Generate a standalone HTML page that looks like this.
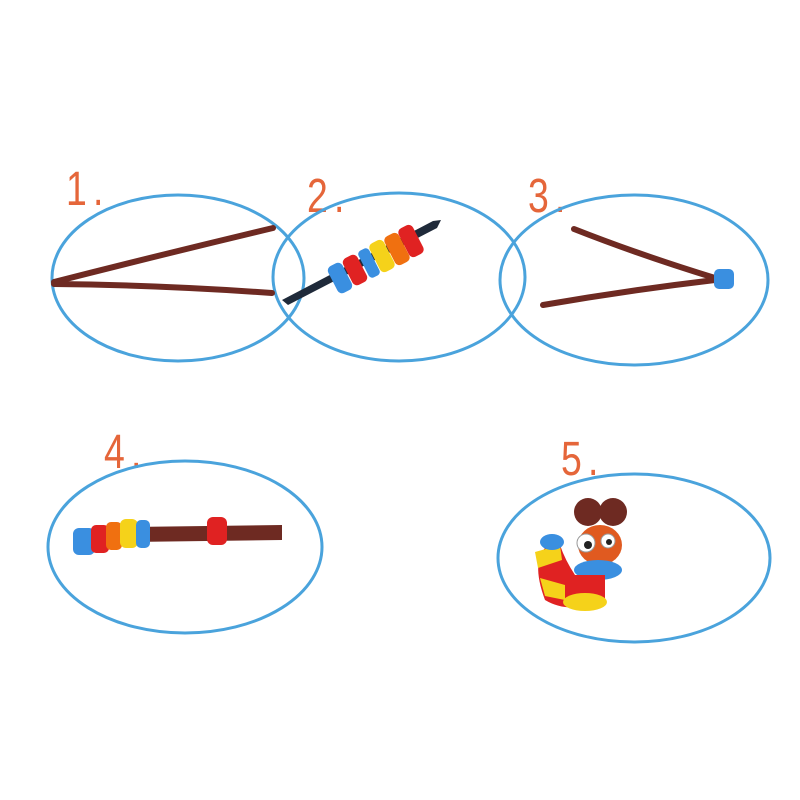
<!DOCTYPE html>
<html><head><style>body{margin:0;background:#fff}svg{display:block}</style></head><body>
<svg width="800" height="800" viewBox="0 0 800 800" xmlns="http://www.w3.org/2000/svg">
<g fill="#e5663a" font-family="Liberation Sans, sans-serif" font-size="48">
<text transform="translate(66 205) scale(0.78 1)">1<tspan dx="8">.</tspan></text>
<text transform="translate(307 212) scale(0.78 1)">2<tspan dx="8">.</tspan></text>
<text transform="translate(528 212) scale(0.78 1)">3<tspan dx="8">.</tspan></text>
<text transform="translate(104 468) scale(0.78 1)">4<tspan dx="8">.</tspan></text>
<text transform="translate(561 475) scale(0.78 1)">5<tspan dx="8">.</tspan></text>
</g>
<g fill="none" stroke="#4aa3dc" stroke-width="3">
<ellipse cx="178" cy="278" rx="126" ry="83"/>
<ellipse cx="399" cy="277" rx="126" ry="84"/>
<ellipse cx="634" cy="280" rx="134" ry="85"/>
<ellipse cx="185" cy="547" rx="137" ry="86"/>
<ellipse cx="634" cy="558" rx="136" ry="84"/>
</g>
<!-- 1 -->
<g stroke="#6e2a22" stroke-width="6" fill="none" stroke-linecap="round">
<path d="M54 282 Q160 255 273 228"/>
<path d="M54 284 Q160 285 272 293"/>
</g>
<!-- 2 pencil -->
<path d="M282 300 L433 221 L441 220 L437 228 L288 305Z" fill="#1f2a3a"/>
<g>
<rect x="-8" y="-15" width="16" height="30" rx="5" fill="#3a8fe0" transform="translate(340 278) rotate(-27)"/>
<rect x="-8" y="-15" width="16" height="30" rx="5" fill="#e02222" transform="translate(355 270) rotate(-27)"/>
<rect x="-6" y="-15" width="12" height="30" rx="4" fill="#3a8fe0" transform="translate(369 263) rotate(-27)"/>
<rect x="-8" y="-16" width="16" height="32" rx="5" fill="#f5d21a" transform="translate(382 256) rotate(-27)"/>
<rect x="-8" y="-16" width="16" height="32" rx="5" fill="#f07010" transform="translate(397 249) rotate(-27)"/>
<rect x="-8" y="-16" width="16" height="32" rx="5" fill="#e02222" transform="translate(411 241) rotate(-27)"/>
</g>
<!-- 3 -->
<g stroke="#6e2a22" stroke-width="6" fill="none" stroke-linecap="round">
<path d="M574 229 Q640 255 715 278"/>
<path d="M543 305 Q630 290 715 280"/>
</g>
<rect x="714" y="269" width="20" height="20" rx="5" fill="#3a8fe0"/>
<!-- 4 -->
<path d="M130 527 L282 525 L282 540 L130 542Z" fill="#6e2a22"/>
<rect x="73" y="528" width="22" height="27" rx="6" fill="#3a8fe0"/>
<rect x="91" y="525" width="18" height="28" rx="5" fill="#e02222"/>
<rect x="106" y="522" width="16" height="28" rx="5" fill="#f07010"/>
<rect x="120" y="519" width="18" height="29" rx="6" fill="#f5d21a"/>
<rect x="136" y="520" width="14" height="28" rx="5" fill="#3a8fe0"/>
<rect x="207" y="517" width="20" height="28" rx="6" fill="#e02222"/>
<!-- 5 worm -->
<circle cx="588" cy="512" r="14" fill="#6e2a22"/>
<circle cx="613" cy="512" r="14" fill="#6e2a22"/>
<ellipse cx="600" cy="545" rx="22" ry="20" fill="#e05a20"/>
<circle cx="586" cy="543" r="9" fill="#fff" stroke="#999"/><circle cx="588" cy="545" r="4" fill="#222"/>
<circle cx="608" cy="541" r="7" fill="#fff" stroke="#999"/><circle cx="609" cy="542" r="3" fill="#222"/>
<ellipse cx="598" cy="570" rx="24" ry="10" fill="#3a8fe0"/>
<path d="M548 545 Q530 560 545 600 Q570 615 605 600 L605 575 L575 575 Q565 560 560 545Z" fill="#e02222"/>
<path d="M535 552 L560 545 L562 560 L538 568Z" fill="#f5d21a"/>
<ellipse cx="552" cy="542" rx="12" ry="8" fill="#3a8fe0"/>
<path d="M540 578 L565 585 L565 600 L545 596Z" fill="#f5d21a"/>
<ellipse cx="585" cy="602" rx="22" ry="9" fill="#f5d21a"/>
</svg>
</body></html>
